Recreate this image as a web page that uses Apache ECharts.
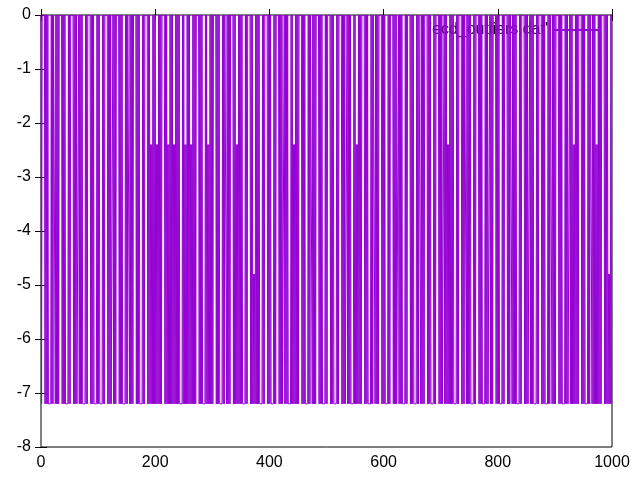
<!DOCTYPE html>
<html>
<head>
<meta charset="utf-8">
<script src="https://cdn.jsdelivr.net/npm/echarts@6/dist/echarts.min.js"></script>
<style>
  html, body { margin: 0; padding: 0; background: #fff; }
  #chart { width: 640px; height: 480px; }
</style>
</head>
<body>
<div id="chart"></div>
<script>
// levels, one character per point (x = 0, 1, 2 ...)
// 0 -> 0, 1 -> -2.4, 2 -> -4.8, 3 -> -7.2
const levelValues = [0, -2.4, -4.8, -7.2]
const seg0 = '0300000303 0303333303 0300030303 0300000303 0303333303 0300000303 0303330303 0303333303 0300000303 0303333303'
const seg1 = '0303333303 0300000303 0303330303 0300000303 0303333303 0300030303 0300000303 0303333303 0300000303 0313130303'
const seg2 = '0313130303 0300000303 0313130303 0313130303 0303333303 0313130303 0313130303 0300000303 0303333303 0313130303'
const seg3 = '0300000303 0303333303 0300030303 0300000303 0313130303 0303333303 0300000303 0323230303 0303333303 0300000303'
const seg4 = '0303333303 0300000303 0303330303 0303333303 0313130303 0300000303 0303333303 0300030303 0300000303 0303333303'
const seg5 = '0300000303 0303333303 0300000303 0303330303 0303333303 0313130303 0300000303 0303333303 0300030303 0300000303'
const seg6 = '0303333303 0300000303 0303330303 0303333303 0300000303 0303333303 0300030303 0300000303 0303333303 0300000303'
const seg7 = '0303330303 0313130303 0303333303 0300000303 0300030303 0303333303 0300000303 0303333303 0303330303 0300000303'
const seg8 = '0303333303 0300000303 0300030303 0303333303 0300000303 0303330303 0303333303 0300000303 0303333303 0300030303'
const seg9 = '0300000303 0303333303 0303330303 0313130303 0300000303 0303333303 0300030303 0313130303 0300000303 0303232303'

const xTicks = [0, 200, 400, 600, 800, 1000]
const yTicks = [0, -1, -2, -3, -4, -5, -6, -7, -8]
const seriesName = "'ecd_outliers.dat'"

const levelString = [seg0, seg1, seg2, seg3, seg4, seg5, seg6, seg7, seg8, seg9].join('').replace(/ /g, '')
const points = levelString.split('').map((c, i) => [i, levelValues[Number(c)]])

const chart = echarts.init(document.getElementById('chart'), null, { renderer: 'canvas' })

const font = 'Liberation Sans, Arial, sans-serif'
const baseX = {
  type: 'value',
  min: xTicks[0],
  max: xTicks[xTicks.length - 1],
  interval: 200,
  splitLine: { show: false },
  axisLine: { show: false },
  axisTick: { show: true, inside: true, length: 6, lineStyle: { color: '#000' } }
}
const baseY = {
  type: 'value',
  min: yTicks[yTicks.length - 1],
  max: yTicks[0],
  interval: 1,
  splitLine: { show: false },
  axisLine: { show: false },
  axisTick: { show: true, inside: true, length: 6, lineStyle: { color: '#000' } }
}

const option = {
  animation: false,
  backgroundColor: '#fff',
  grid: {
    left: 41, right: 28, top: 15, bottom: 33,
    show: true, borderColor: '#000', borderWidth: 1, backgroundColor: 'transparent'
  },
  legend: {
    z: 1,
    top: 17,
    right: 36,
    align: 'right',
    itemWidth: 46,
    itemHeight: 2,
    icon: 'rect',
    textStyle: { fontFamily: font, fontSize: 16, color: '#000' },
    data: [seriesName]
  },
  xAxis: [
    Object.assign({}, baseX, {
      position: 'bottom',
      axisLabel: { show: true, color: '#000', fontFamily: font, fontSize: 16, margin: 8, formatter: (v) => String(v) }
    }),
    Object.assign({}, baseX, { position: 'top', axisLabel: { show: false } })
  ],
  yAxis: [
    Object.assign({}, baseY, {
      position: 'left',
      axisLabel: { show: true, color: '#000', fontFamily: font, fontSize: 16, margin: 10 }
    }),
    Object.assign({}, baseY, { position: 'right', axisLabel: { show: false } })
  ],
  series: [
    {
      name: seriesName,
      type: 'line',
      data: points,
      showSymbol: false,
      symbol: 'none',
      sampling: null,
      z: 2,
      lineStyle: { color: '#9400d3', width: 1 },
      itemStyle: { color: '#9400d3' }
    }
  ]
}

chart.setOption(option)
</script>
</body>
</html>
